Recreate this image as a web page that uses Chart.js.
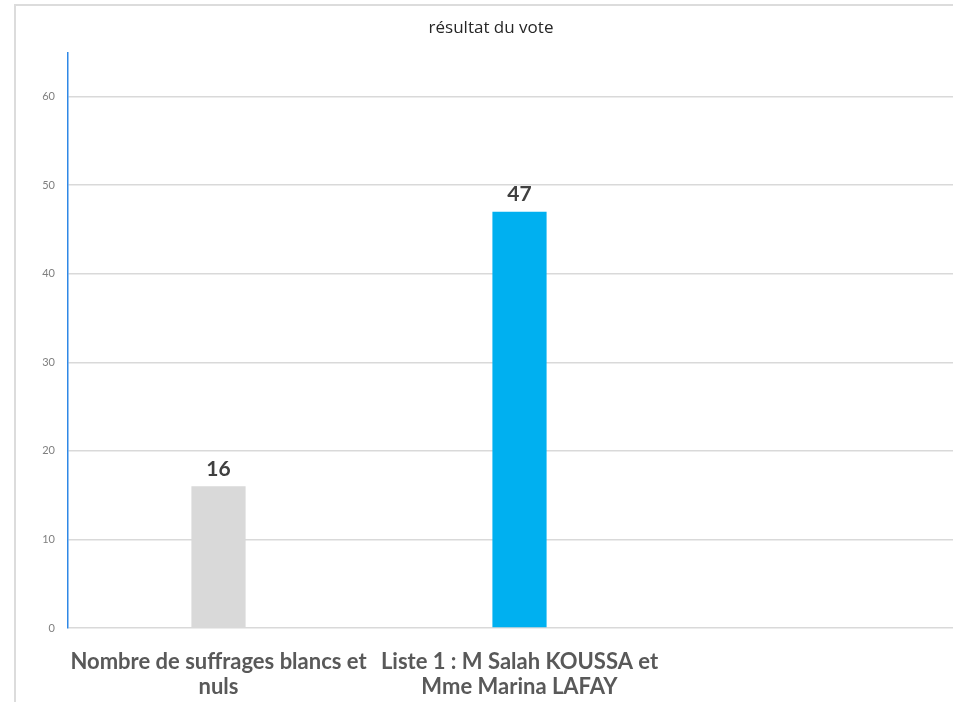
<!DOCTYPE html>
<html lang="fr">
<head>
<meta charset="utf-8">
<title>résultat du vote</title>
<script src="https://cdn.jsdelivr.net/npm/chart.js@4/dist/chart.umd.min.js"></script>
<style>
  html, body { margin: 0; padding: 0; background: #ffffff; overflow: hidden; }
  #wrap { position: absolute; left: 0; top: 0; width: 990px; height: 702px; }
</style>
</head>
<body>
<div id="wrap"><canvas id="chart" width="990" height="702"></canvas></div>
<script>
// Categories (multi-line labels) and vote counts
const categories = [
  ['Nombre de suffrages blancs et', 'nuls'],
  ['Liste 1 : M Salah KOUSSA et', 'Mme Marina LAFAY'],
  ''
];
const votes = [16, 47, null];
const barColors = ['#d9d9d9', '#00b0f0', '#00b0f0'];
const yTicks = [0, 10, 20, 30, 40, 50, 60];
const yMax = 65;
const chartTitle = 'résultat du vote';

// Light frame along the top and left edges of the chart
const framePlugin = {
  id: 'frame',
  beforeDraw(chart) {
    const ctx = chart.ctx;
    ctx.save();
    ctx.strokeStyle = '#dcdcdc';
    ctx.lineWidth = 2;
    ctx.beginPath();
    ctx.moveTo(15, chart.height);
    ctx.lineTo(15, 5);
    ctx.lineTo(chart.width, 5);
    ctx.stroke();
    ctx.restore();
  }
};

// Value written above each bar
const valueLabels = {
  id: 'valueLabels',
  afterDatasetsDraw(chart) {
    const ctx = chart.ctx;
    const ds = chart.data.datasets[0];
    const meta = chart.getDatasetMeta(0);
    ctx.save();
    ctx.font = 'bold 21px Lato, "Open Sans", sans-serif';
    ctx.fillStyle = '#404040';
    ctx.textAlign = 'center';
    ctx.textBaseline = 'bottom';
    meta.data.forEach((bar, i) => {
      const v = ds.data[i];
      if (v === null || v === undefined) return;
      ctx.fillText(String(v), bar.x, bar.y - 7);
    });
    ctx.restore();
  }
};

new Chart(document.getElementById('chart'), {
  type: 'bar',
  data: {
    labels: categories,
    datasets: [{
      data: votes,
      backgroundColor: barColors,
      borderWidth: 0,
      barPercentage: 0.18,
      categoryPercentage: 1.0
    }]
  },
  options: {
    responsive: false,
    animation: false,
    layout: { padding: { left: 11, right: 19, top: 18, bottom: 0 } },
    plugins: {
      legend: { display: false },
      tooltip: { enabled: false },
      title: {
        display: true,
        text: chartTitle,
        color: '#262626',
        font: { family: '"Open Sans", Lato, sans-serif', size: 17, weight: 'normal', lineHeight: 1.2 },
        padding: { top: 0, bottom: 14 }
      }
    },
    scales: {
      x: {
        grid: { display: false, drawTicks: false },
        border: { display: false },
        ticks: {
          autoSkip: false,
          maxRotation: 0,
          minRotation: 0,
          padding: 21,
          color: '#595959',
          font: { family: 'Lato, "Open Sans", sans-serif', size: 22, weight: 'bold', lineHeight: 1.15 }
        },
        afterFit(scale) { scale.height = 74; }
      },
      y: {
        min: 0,
        max: yMax,
        grid: { color: '#d9d9d9', lineWidth: 1.5, drawTicks: false },
        border: { display: true, color: '#2f88e6', width: 1.5 },
        ticks: {
          stepSize: 10,
          padding: 13,
          color: '#7f7f7f',
          font: { family: 'Lato, "Open Sans", sans-serif', size: 11 }
        },
        afterBuildTicks(scale) {
          scale.ticks = yTicks.map(v => ({ value: v }));
        },
        afterFit(scale) { scale.width = 57; }
      }
    }
  },
  plugins: [framePlugin, valueLabels]
});
</script>
</body>
</html>
